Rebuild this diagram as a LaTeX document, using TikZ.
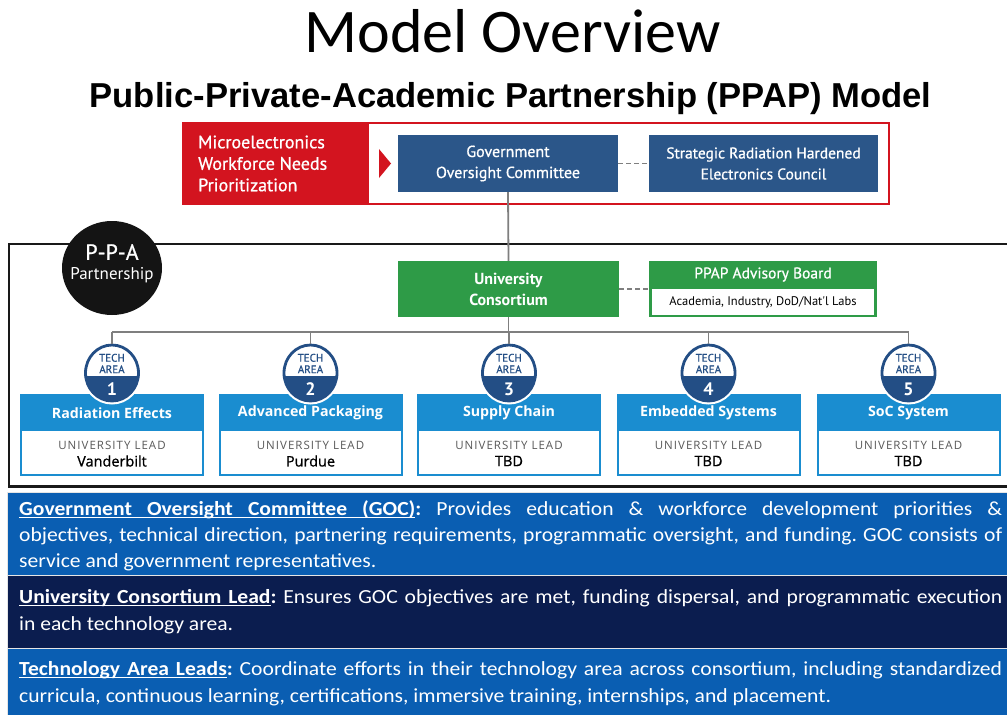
\documentclass[tikz,border=0pt]{standalone}
\usepackage{fontspec}
\setmainfont{Carlito}
\newfontfamily\panelfont{Carlito}[FakeStretch=1.08]
\newfontfamily\ptsans{PT Sans}
\newfontfamily\ptsansmed{PT Sans}[FakeBold=0.8]
\newfontfamily\osans{Open Sans}
\newfontfamily\osansmed{Open Sans}[FakeBold=0.9]
\newfontfamily\arialf{Liberation Sans}
\usetikzlibrary{shapes.geometric}
\definecolor{redc}{HTML}{D3141F}
\definecolor{govblue}{HTML}{2B5689}
\definecolor{greenc}{HTML}{2E9B47}
\definecolor{techblue}{HTML}{1A8DD0}
\definecolor{circblue}{HTML}{234E85}
\definecolor{panelblue}{HTML}{0A5EB2}
\definecolor{panelnavy}{HTML}{0B1D4F}
\definecolor{linegray}{HTML}{7F7F7F}
\newcommand\ulbox[1]{\setbox0\hbox{#1}\rlap{\rule[-3.2pt]{\wd0}{1.3pt}}\box0}
\newcommand\ulsp{\leaders\hrule height -1.9pt depth 3.2pt\hskip\fontdimen2\font plus\fontdimen3\font minus\fontdimen4\font}
\newcommand\jline[1]{\makebox[983pt][s]{#1}}
\tikzset{
  conn/.style={draw=linegray, line width=1.8pt},
  dashconn/.style={draw=linegray, line width=1.5pt, dash pattern=on 5pt off 3pt},
  govbox/.style={fill=govblue, text=white, minimum width=220pt, minimum height=57pt, inner sep=0pt,
    align=center, font=\ptsansmed\fontsize{16}{21}\selectfont},
  greenbox/.style={fill=greenc, text=white, minimum width=221pt, minimum height=56pt, inner sep=0pt,
    align=center, font=\ptsans\bfseries\fontsize{16}{21}\selectfont},
  techbox/.style={draw=techblue, line width=2pt, fill=white, minimum width=182pt, minimum height=80pt, inner sep=0pt},
  techhead/.style={fill=techblue, text=white, minimum width=182pt, minimum height=35pt, inner sep=0pt,
    font=\osans\bfseries\fontsize{14.2}{16}\selectfont},
  leadlbl/.style={text=black!65, inner sep=0pt, font=\osans\addfontfeatures{LetterSpace=9}\fontsize{11.5}{13}\selectfont},
  leadname/.style={text=black, inner sep=0pt, font=\osansmed\fontsize{14.5}{16}\selectfont},
  techcirc/.style={ellipse, minimum width=53pt, minimum height=56pt, inner sep=0pt, fill=white,
    draw=circblue, line width=2.8pt, preaction={draw=white, line width=7pt},
    path picture={\fill[circblue] ([yshift=-3pt]path picture bounding box.west) rectangle (path picture bounding box.south east);}},
  techtxt/.style={text=circblue, inner sep=0pt, align=center, font=\ptsansmed\fontsize{11}{11.5}\selectfont},
  technum/.style={text=white, inner sep=0pt, font=\ptsans\bfseries\fontsize{18}{18}\selectfont},
  panel/.style={draw=white!80!gray, line width=1pt},
  ptext/.style={anchor=base west, inner sep=0pt, text=white, font=\panelfont\frenchspacing\fontsize{20}{26}\selectfont},
}
\begin{document}
\begin{tikzpicture}[x=1pt,y=-1pt]
\useasboundingbox (0,0) rectangle (1007,715);
\fill[white] (0,0) rectangle (1007,715);

% titles
\node[anchor=base, inner sep=0pt, font=\fontsize{62}{70}\selectfont] (title) at (512.5,52) {Model Overview};
\node[anchor=base, inner sep=0pt, font=\arialf\bfseries\fontsize{34.6}{40}\selectfont] (subtitle) at (510.5,107) {Public-Private-Academic Partnership (PPAP) Model};

% red prioritization box
\node[draw=redc, line width=2.5pt, minimum width=706pt, minimum height=81pt, inner sep=0pt] (redframe) at (536,163.5) {};
\fill[redc] (redframe.north west) rectangle (369,204);
\node[anchor=west, inner sep=0pt, text=white, align=left, font=\ptsansmed\fontsize{18}{21.5}\selectfont] (needs) at (198,163.5) {Microelectronics\\Workforce Needs\\Prioritization};
\fill[redc] (379,149) -- (391,163.5) -- (379,178) -- cycle;

% government level
\node[govbox] (goc) at (508,163.5) {Government\\Oversight Committee};
\node[govbox, minimum width=229pt, font=\ptsansmed\fontsize{15.5}{21}\selectfont] (srhec) at (763.5,163.5) {Strategic Radiation Hardened\\Electronics Council};
\draw[dashconn] (goc.east) -- (srhec.west);

% partnership frame
\draw[line width=2.6pt, black!90] (1012,244) -- (9,244) -- (9,486.5) -- (1012,486.5);
\node[ellipse, fill=black!92, minimum width=100pt, minimum height=94pt, inner sep=0pt] (ppa) at (112,268) {};
\node[text=white, inner sep=0pt, font=\ptsansmed\fontsize{22}{23}\selectfont] (ppat) at (112,252) {P-P-A};
\node[text=white, inner sep=0pt, font=\ptsans\fontsize{17}{18}\selectfont] (ppas) at (112,275) {Partnership};

% consortium level
\node[greenbox] (uc) at (508.5,289) {University\\Consortium};
\node[fill=greenc, minimum width=228pt, minimum height=56pt, inner sep=0pt] (ppap) at (763,289) {};
\node[fill=white, minimum width=222pt, minimum height=26pt, inner sep=0pt, font=\ptsans\fontsize{12.5}{14}\selectfont] (ppapsub) at (763,302) {Academia, Industry, DoD/Nat'l Labs};
\node[text=white, inner sep=0pt, font=\ptsansmed\fontsize{15.5}{17}\selectfont] (ppapt) at (763,274.5) {PPAP Advisory Board};
\draw[dashconn] (uc.east) -- (uc.east -| ppap.west);
\draw[conn] (goc.south) -- (uc.north);

% tech areas
\coordinate (bmid) at (508.5,332);
\draw[conn] (uc.south) -- (bmid);
\foreach \i/\x/\h/\l in {1/112/Radiation Effects/Vanderbilt,2/310.5/Advanced Packaging/Purdue,3/509/Supply Chain/TBD,4/708.5/Embedded Systems/TBD,5/908.5/SoC System/TBD}{
  \coordinate (b\i) at (\x,332);
  \node[techbox] (tb\i) at (\x,435) {};
  \node[techhead] (th\i) at (\x,413) {\h};
  \node[leadlbl] (tl\i) at (\x,445) {UNIVERSITY LEAD};
  \node[leadname] (tn\i) at (\x,461) {\l};
  \node[techcirc] (tc\i) at (\x,373) {};
  \node[techtxt] (tt\i) at (\x,363.5) {TECH\\AREA};
  \node[technum] (tk\i) at (\x,389) {\i};
  \draw[conn] (b\i) -- (tc\i.north);
}
\draw[conn] (b1) -- (b5);

% description panels
\fill[panelblue] (7,492) rectangle (1010,575);
\fill[panelnavy] (7,576) rectangle (1010,647.5);
\fill[panelblue] (7,648.5) rectangle (1010,716);
\draw[panel] (1010,492) -- (7,492) -- (7,716);
\draw[panel] (7,575.5) -- (1010,575.5);
\draw[panel] (7,648) -- (1010,648);

\node[ptext] (p1a) at (19,515) {\jline{\bfseries\ulbox{Government}\ulsp\ulbox{Oversight}\ulsp\ulbox{Committee}\ulsp\ulbox{(GOC)}:\mdseries{} Provides education \& workforce development priorities \&}};
\node[ptext] (p1b) at (19,541.5) {\jline{objectives, technical direction, partnering requirements, programmatic oversight, and funding. GOC consists of}};
\node[ptext] (p1c) at (19,567) {service and government representatives.};
\node[ptext] (p2a) at (19,603) {\jline{\bfseries\ulbox{University}\ulsp\ulbox{Consortium}\ulsp\ulbox{Lead}:\mdseries{} Ensures GOC objectives are met, funding dispersal, and programmatic execution}};
\node[ptext] (p2b) at (19,630) {in each technology area.};
\node[ptext] (p3a) at (19,675) {\jline{\bfseries\ulbox{Technology}\ulsp\ulbox{Area}\ulsp\ulbox{Leads}:\mdseries{} Coordinate efforts in their technology area across consortium, including standardized}};
\node[ptext] (p3b) at (19,702) {curricula, continuous learning, certifications, immersive training, internships, and placement.};
\end{tikzpicture}
\end{document}
